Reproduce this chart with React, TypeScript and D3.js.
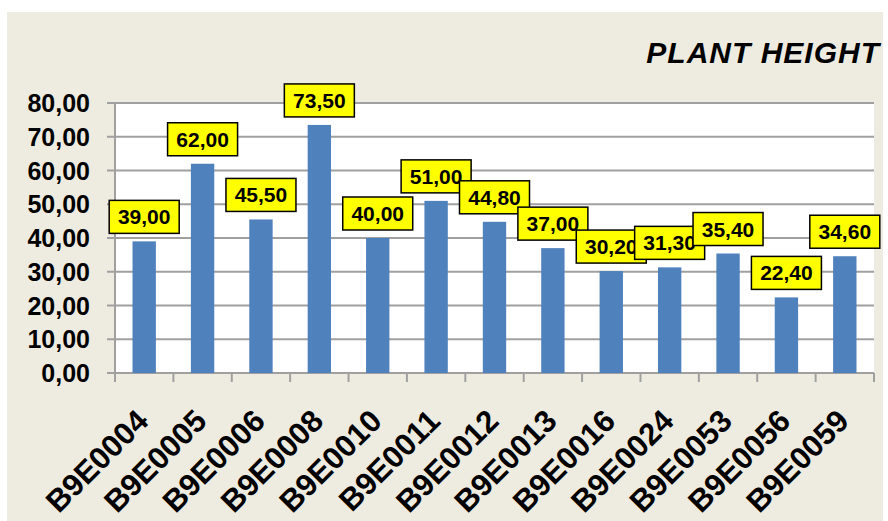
import React from 'react';
import * as d3 from 'd3';

const categories = ['B9E0004','B9E0005','B9E0006','B9E0008','B9E0010','B9E0011','B9E0012','B9E0013','B9E0016','B9E0024','B9E0053','B9E0056','B9E0059'];
const values = [39.0, 62.0, 45.5, 73.5, 40.0, 51.0, 44.8, 37.0, 30.2, 31.3, 35.4, 22.4, 34.6];
const yTicks = [0, 10, 20, 30, 40, 50, 60, 70, 80];
const title = 'PLANT HEIGHT';

const W = 888, H = 521;
const plot = { left: 115, right: 874, top: 103, bottom: 373 };
const FONT = '"Liberation Sans", Arial, sans-serif';
const fmt = (v: number) => d3.format('.2f')(v).replace('.', ',');

export default function App() {
  const x = d3.scaleBand<string>().domain(categories).range([plot.left, plot.right]).paddingInner(0.6).paddingOuter(0.3);
  const xb = d3.scaleBand<string>().domain(categories).range([plot.left, plot.right]).padding(0);
  const y = d3.scaleLinear().domain([0, 80]).range([plot.bottom, plot.top]);
  const grid = '#A0A0A0';
  const boundaries = [...categories.map(c => xb(c) as number), plot.right];
  const boxW = 70, boxH = 33, gap = 8;

  return (
    <svg width={W} height={H} style={{ position: 'absolute', left: 0, top: 0 }} fontFamily={FONT}>
      <rect x={0} y={0} width={W} height={H} fill="#fff" />
      <rect x={7} y={12} width={876} height={509} fill="#EEECE1" />
      <rect x={plot.left} y={plot.top} width={plot.right - plot.left} height={plot.bottom - plot.top} fill="#fff" />
      <text x={880} y={63} textAnchor="end" fontSize={30} fontWeight="bold" fontStyle="italic" letterSpacing={1.0} fill="#000">{title}</text>
      {yTicks.map(t => (
        <g key={t}>
          <line x1={plot.left - 8} x2={plot.right} y1={y(t)} y2={y(t)} stroke={grid} strokeWidth={2} />
          <text x={90} y={y(t)} dy="0.36em" textAnchor="end" fontSize={25} fontWeight="bold" fill="#000">{fmt(t)}</text>
        </g>
      ))}
      <line x1={plot.left} x2={plot.left} y1={plot.top} y2={plot.bottom} stroke={grid} strokeWidth={2} />
      {boundaries.map((b, i) => (
        <line key={i} x1={b} x2={b} y1={plot.bottom} y2={plot.bottom + 9} stroke={grid} strokeWidth={2} />
      ))}
      {categories.map((c, i) => (
        <rect key={c} x={x(c)} y={y(values[i])} width={x.bandwidth()} height={plot.bottom - y(values[i])} fill="#4F81BD" />
      ))}
      {categories.map((c, i) => {
        const cx = (x(c) as number) + x.bandwidth() / 2;
        const top = y(values[i]) - gap - boxH;
        return (
          <g key={c}>
            <rect x={cx - boxW / 2} y={top} width={boxW} height={boxH} fill="#FFFF00" stroke="#000" strokeWidth={1.5} />
            <text x={cx} y={top + boxH / 2} dy="0.36em" textAnchor="middle" fontSize={21} fontWeight="bold" fill="#000">{fmt(values[i])}</text>
          </g>
        );
      })}
      {categories.map(c => {
        const cx = (xb(c) as number) + xb.bandwidth() / 2 - 2;
        const ay = plot.bottom + 42;
        return (
          <text key={c} x={cx} y={ay} dy="0.36em" textAnchor="end" fontSize={31} fontWeight="bold" fill="#000" transform={`rotate(-45 ${cx} ${ay})`}>{c}</text>
        );
      })}
    </svg>
  );
}
